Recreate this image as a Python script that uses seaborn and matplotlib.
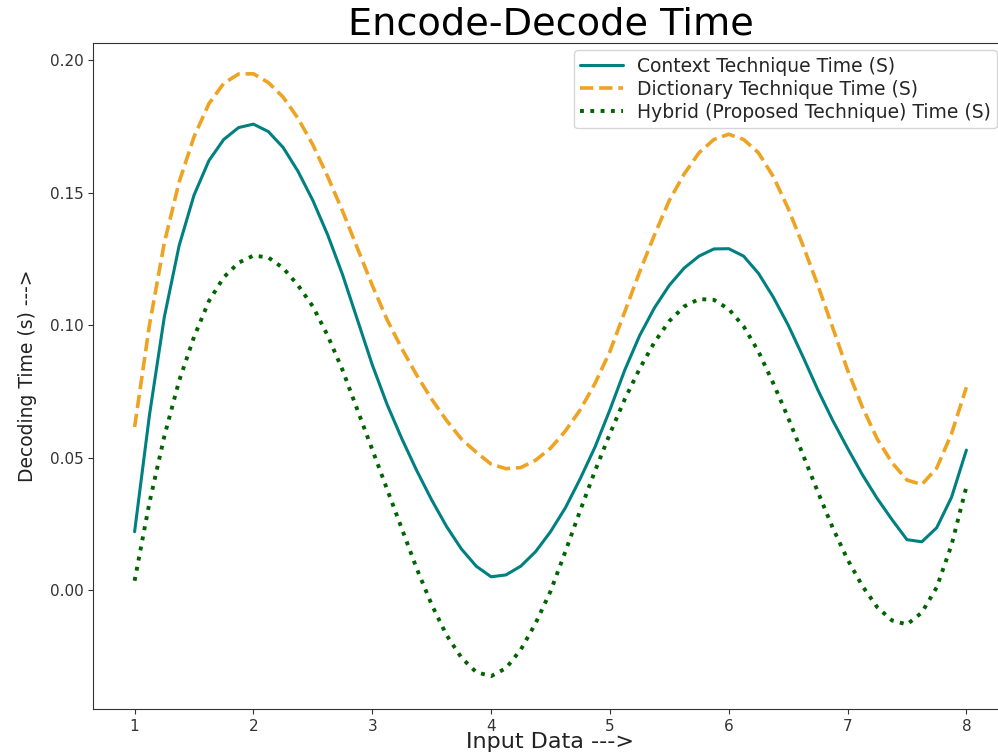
import matplotlib
matplotlib.use("Agg")
import matplotlib.pyplot as plt
import pandas as pd
import seaborn as sns

# Values every 0.125 along the x axis
x_vals = [1.0, 1.125, 1.25, 1.375, 1.5, 1.625, 1.75, 1.875,
          2.0, 2.125, 2.25, 2.375, 2.5, 2.625, 2.75, 2.875,
          3.0, 3.125, 3.25, 3.375, 3.5, 3.625, 3.75, 3.875,
          4.0, 4.125, 4.25, 4.375, 4.5, 4.625, 4.75, 4.875,
          5.0, 5.125, 5.25, 5.375, 5.5, 5.625, 5.75, 5.875,
          6.0, 6.125, 6.25, 6.375, 6.5, 6.625, 6.75, 6.875,
          7.0, 7.125, 7.25, 7.375, 7.5, 7.625, 7.75, 7.875, 8.0]

context_time = [0.022, 0.066, 0.103, 0.130, 0.149, 0.162, 0.170, 0.1745,
                0.1758, 0.173, 0.167, 0.158, 0.147, 0.134, 0.119, 0.102,
                0.085, 0.070, 0.057, 0.045, 0.034, 0.024, 0.0155, 0.009,
                0.005, 0.0057, 0.009, 0.0145, 0.022, 0.031, 0.042, 0.054,
                0.068, 0.083, 0.096, 0.1065, 0.115, 0.1215, 0.126, 0.1287,
                0.1288, 0.126, 0.1195, 0.1105, 0.100, 0.088, 0.0755, 0.064,
                0.0535, 0.0435, 0.0345, 0.0265, 0.019, 0.0182, 0.0235, 0.035, 0.0528]

dictionary_time = [0.0615, 0.100, 0.131, 0.154, 0.171, 0.1835, 0.1912, 0.1947,
                   0.1948, 0.1915, 0.186, 0.178, 0.168, 0.156, 0.143, 0.129,
                   0.115, 0.102, 0.091, 0.081, 0.072, 0.064, 0.057, 0.052,
                   0.0475, 0.0458, 0.0462, 0.049, 0.0535, 0.060, 0.068, 0.078,
                   0.090, 0.105, 0.120, 0.134, 0.147, 0.157, 0.165, 0.170,
                   0.172, 0.170, 0.165, 0.156, 0.144, 0.130, 0.115, 0.099,
                   0.083, 0.069, 0.057, 0.048, 0.0415, 0.0398, 0.046, 0.059, 0.0765]

hybrid_time = [0.0035, 0.033, 0.058, 0.079, 0.0955, 0.109, 0.118, 0.1235,
               0.1262, 0.1255, 0.1215, 0.115, 0.107, 0.096, 0.083, 0.068,
               0.053, 0.038, 0.023, 0.008, -0.0055, -0.017, -0.0255, -0.031,
               -0.0325, -0.0295, -0.0225, -0.0125, -0.0005, 0.0145, 0.030, 0.045,
               0.059, 0.072, 0.0835, 0.0935, 0.1015, 0.107, 0.1098, 0.1095,
               0.106, 0.0995, 0.090, 0.078, 0.065, 0.051, 0.037, 0.0235,
               0.0115, 0.0015, -0.0065, -0.0115, -0.013, -0.0085, 0.001, 0.017, 0.039]

labels = ["Context Technique Time (S)",
          "Dictionary Technique Time (S)",
          "Hybrid (Proposed Technique) Time (S)"]

df = pd.DataFrame({"x": x_vals, "context": context_time,
                   "dictionary": dictionary_time, "hybrid": hybrid_time})

sns.set_style("ticks")
plt.rcParams["font.family"] = ["DejaVu Sans"]

fig = plt.figure(figsize=(9.98, 7.55), dpi=100)
# right spine sits just past the image edge, as in the reference
ax = fig.add_axes([0.0932, 0.0609, 0.9168, 0.8821])

sns.lineplot(data=df, x="x", y="context", ax=ax, color="teal", lw=2.2,
             label=labels[0])
sns.lineplot(data=df, x="x", y="dictionary", ax=ax, color="#eea323", lw=2.6,
             linestyle="--", label=labels[1])
sns.lineplot(data=df, x="x", y="hybrid", ax=ax, color="darkgreen", lw=2.8,
             linestyle=":", label=labels[2])

ax.set_xlim(0.65, 8.35)
ax.set_ylim(-0.0449, 0.2064)
ax.set_title("Encode-Decode Time", fontsize=27.5, color="black")
ax.set_xlabel("Input Data --->", fontsize=16, color="#222222", labelpad=-1)
ax.set_ylabel("Decoding Time (s) --->", fontsize=13.5, color="#222222", labelpad=9)
ax.tick_params(labelsize=11, colors="#333333")
for s in ax.spines.values():
    s.set_color("#333333")

ax.legend(loc="upper right", bbox_to_anchor=(0.988, 0.9895), borderaxespad=0,
          fontsize=13.5, labelspacing=0.22, borderpad=0.35,
          handlelength=2.3, handletextpad=0.7)

fig.savefig("out.png", dpi=100)
